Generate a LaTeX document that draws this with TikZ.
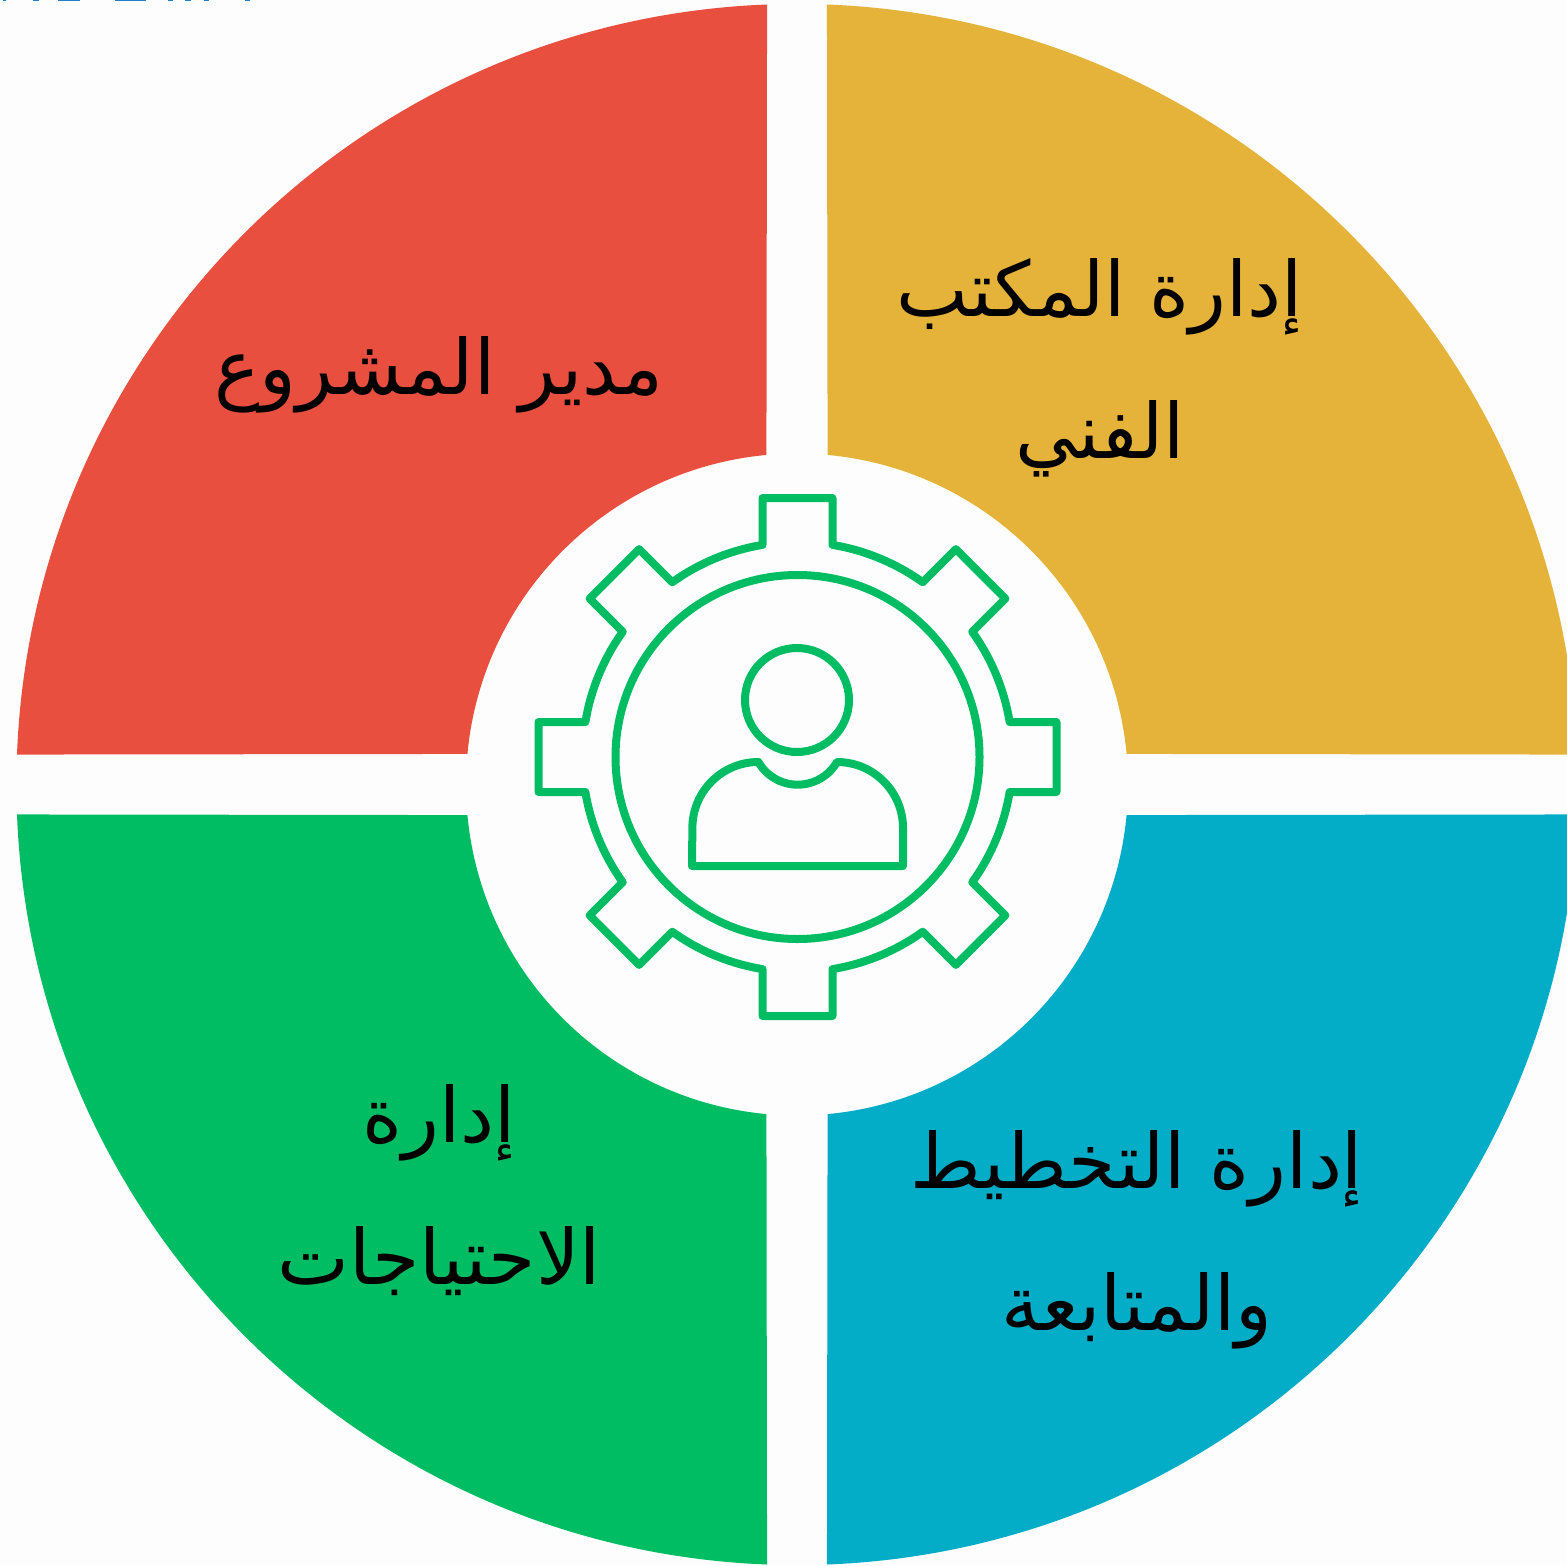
\documentclass[tikz,border=0pt]{standalone}
\usepackage{fontspec}
\usetikzlibrary{calc}
\TeXXeTstate=1
\newfontfamily\arabicfont[Script=Arabic]{DejaVu Sans}
\definecolor{sectorred}{HTML}{E94F3E}
\definecolor{sectoramber}{HTML}{E6B33A}
\definecolor{sectorteal}{HTML}{03ADC7}
\definecolor{sectorgreen}{HTML}{00BD63}
\definecolor{pagewhite}{HTML}{FDFDFD}
\definecolor{cutblue}{HTML}{1F7FCC}
\def\ringsector[#1](#2)(#3){\fill[#1] ($(#2)+(#3+2.2:780.6)$) arc (#3+2.2:#3+87.8:780.6) -- ($(#2)+(#3+84.7:331)$) arc (#3+84.7:#3+5.3:331) -- cycle;}
\def\artext#1{\arabicfont\beginR #1\endR}
\tikzset{
	iconline/.style={line width=0.08cm, color=sectorgreen, line join=round},
	sectorlabel/.style={text=black, align=center, font=\fontsize{21.7}{40.5}\selectfont, inner sep=0pt}
}

\begin{document}
\begin{tikzpicture}[x=0.01cm, y=0.01cm]
			%%%%% START %%%%%
			\clip (0, 0) rectangle (1567, 1565);
			\fill[pagewhite] (0, 0) rectangle (1567, 1565);
			
			\coordinate (ring) at (797, 780.5);
			\coordinate (gear) at (797.5, 808);
			\coordinate (head) at (797, 865);
			
			\ringsector[sectoramber](ring)(0);
			\ringsector[sectorred](ring)(90);
			\ringsector[sectorgreen](ring)(180);
			\ringsector[sectorteal](ring)(270);
			
			\foreach \x/\w in {3/3, 33/6, 58/22, 115/31, 168/5, 185/6, 204/5, 245/5}
				\fill[cutblue] (\x, 1563.5) rectangle (\x+\w, 1565);
			
			\draw[iconline] (gear) circle (182);
			\draw[iconline] (gear) ++(-9.37:215)
				\foreach \a in {0,45,...,315} {
					-- ($(gear)+(\a:259)+(\a-90:35)$) -- ($(gear)+(\a:259)+(\a+90:35)$)
					-- ($(gear)+(\a+9.37:215)$) arc (\a+9.37:\a+35.63:215)
				} -- cycle;
			
			\draw[iconline] (head) circle (52);
			\draw[iconline] (692, 699) -- (903, 699) -- (903, 737) arc (0:90:66)
				arc (-30:-150:45.4) arc (90:180:66) -- cycle;
			
			\node[sectorlabel] (manager) at (439, 1190) {\artext{مدير المشروع}};
			\node[sectorlabel] (office) at (1100, 1197) {\artext{إدارة المكتب}\\\artext{الفني}};
			\node[sectorlabel] (needs) at (439, 375) {\artext{إدارة}\\\artext{الاحتياجات}};
			\node[sectorlabel] (planning) at (1137, 325) {\artext{إدارة التخطيط}\\\artext{والمتابعة}};
			%%%%% END %%%%%
		\end{tikzpicture}
\end{document}
